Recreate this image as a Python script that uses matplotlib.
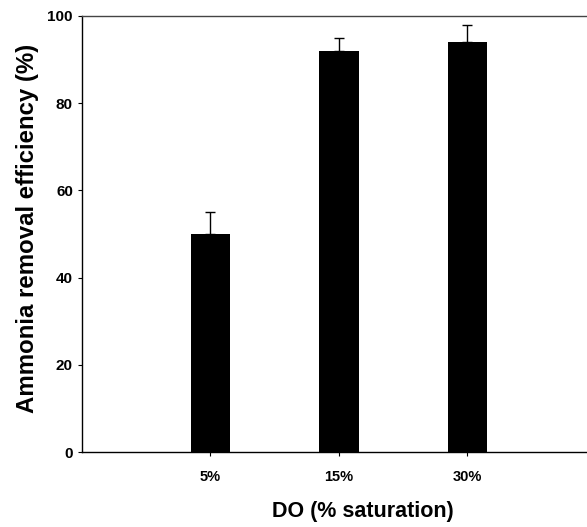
import matplotlib
matplotlib.use('Agg')
import matplotlib.pyplot as plt

plt.rcParams['font.family'] = ['Liberation Sans', 'DejaVu Sans']

# data
do_levels = ['5%', '15%', '30%']
removal = [50, 92, 94]
removal_err = [5, 3, 4]

W, H = 587, 527
fig = plt.figure(figsize=(W / 100, H / 100), dpi=100)
# axes run a bit past the right edge of the figure, like in the scanned original
ax = fig.add_axes([82 / W, 1 - 452 / H, 514 / W, 436 / H])

pos = [1, 2, 3]
ax.bar(pos, removal, width=0.31, color='black', zorder=2)
ax.errorbar(pos, removal, yerr=[[0, 0, 0], removal_err], fmt='none',
            ecolor='black', elinewidth=1.0, capsize=3.6, capthick=1.0, zorder=3)

ax.set_xlim(0, 4)
ax.set_ylim(0, 100)
ax.set_xticks(pos)
ax.set_xticklabels(do_levels)
ax.set_yticks([0, 20, 40, 60, 80, 100])

for lab in ax.get_xticklabels():
    lab.set_fontweight('bold')
    lab.set_fontsize(10.5)
for lab in ax.get_yticklabels():
    lab.set_fontweight('bold')
    lab.set_fontsize(11)

ax.tick_params(axis='y', direction='out', length=3, width=0.8, pad=3.5)
ax.tick_params(axis='x', direction='out', length=3, width=0.8, pad=10)

for s in ['left', 'bottom', 'top']:
    ax.spines[s].set_linewidth(1.0)
ax.spines['top'].set_color('#444444')
ax.spines['right'].set_visible(False)

ax.set_xlabel('DO (% saturation)', fontsize=15.5, fontweight='bold', va='center')
ax.xaxis.set_label_coords(363 / W, 1 - 511.5 / H, transform=fig.transFigure)
ax.set_ylabel('Ammonia removal efficiency (%)', fontsize=17.3, fontweight='bold',
              va='center', rotation_mode='default')
ax.yaxis.set_label_coords(28 / W, 1 - 228 / H, transform=fig.transFigure)

fig.savefig('out.png', dpi=100)
